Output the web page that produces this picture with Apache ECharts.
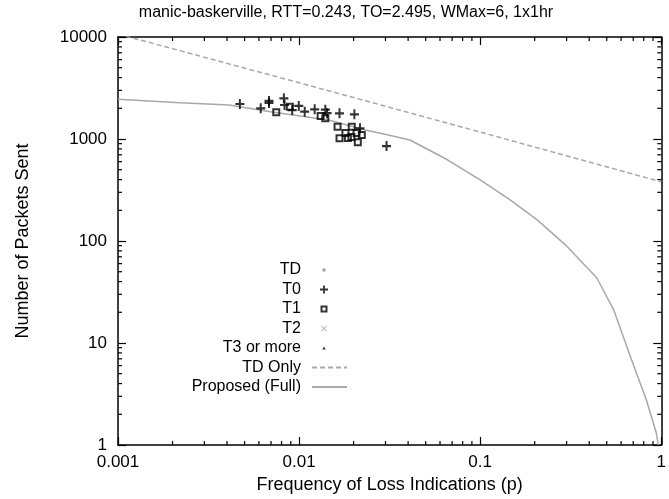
<!DOCTYPE html>
<html>
<head>
<meta charset="utf-8">
<style>
  html, body { margin: 0; padding: 0; background: #fff; }
  #chart { width: 669px; height: 499px; }
</style>
</head>
<body>
<div id="chart"></div>
<script src="https://cdn.jsdelivr.net/npm/echarts@6/dist/echarts.min.js"></script>
<script>
  // model curves: loss frequency p -> packets sent
  var tdOnlyP = [0.001, 0.01, 0.1, 1];
  var tdOnlyN = [10700, 3560, 1170, 380];

  var fullP = [0.001, 0.00219, 0.00411, 0.00708, 0.01455, 0.0232, 0.0311, 0.041, 0.0663, 0.1005, 0.147, 0.2065, 0.301, 0.441, 0.547, 0.686, 0.828, 0.939, 0.963];
  var fullN = [2450, 2270, 2154, 1840, 1535, 1225, 1094, 977, 622, 396, 252, 161, 89, 43.4, 21, 6.8, 2.76, 1.31, 1];

  // measured points
  var t0P = [0.00471, 0.00614, 0.00682, 0.00682, 0.00824, 0.00831, 0.00916, 0.00996, 0.01074, 0.01219, 0.01396, 0.01427, 0.01672, 0.0202, 0.0217, 0.0304];
  var t0N = [2203, 2000, 2360, 2253, 2506, 2154, 1923, 2108, 1852, 1955, 1940, 1790, 1786, 1746, 1273, 853];

  var t1P = [0.00748, 0.00889, 0.01315, 0.01396, 0.01631, 0.01672, 0.01954, 0.01803, 0.01945, 0.02075, 0.0186, 0.0211, 0.0222];
  var t1N = [1828, 2075, 1680, 1595, 1321, 1016, 1321, 1145, 1047, 1145, 1023, 929, 1094];

  var xDecades = [0.001, 0.01, 0.1];
  var yDecades = [1, 10, 100, 1000];
  var minorSteps = [2, 3, 4, 5, 6, 7, 8, 9];

  function zip(a, b) {
    return a.map(function (v, i) { return [v, b[i]]; });
  }

  var xMinor = [], yMinor = [];
  xDecades.forEach(function (d) { minorSteps.forEach(function (s) { xMinor.push([d * s, 1]); }); });
  yDecades.forEach(function (d) { minorSteps.forEach(function (s) { yMinor.push([0.001, d * s]); }); });

  var plusPath = 'path://M3.9,0H6.1V3.9H10V6.1H6.1V10H3.9V6.1H0V3.9H3.9Z';
  var boxPath = 'path://M0,0H10V10H0Z M2.5,2.5V7.5H7.5V2.5Z';

  var font = 'Liberation Sans, Arial, sans-serif';
  var grey = '#a8a8a8';

  function minorTicks(isX) {
    return function (params, api) {
      var cs = params.coordSys;
      var p = api.coord([api.value(0), api.value(1)]);
      var st = { stroke: '#000', lineWidth: 1.2 };
      if (isX) {
        return { type: 'group', children: [
          { type: 'line', shape: { x1: p[0], y1: cs.y + cs.height, x2: p[0], y2: cs.y + cs.height - 4 }, style: st },
          { type: 'line', shape: { x1: p[0], y1: cs.y, x2: p[0], y2: cs.y + 4 }, style: st }
        ] };
      }
      return { type: 'group', children: [
        { type: 'line', shape: { x1: cs.x, y1: p[1], x2: cs.x + 4, y2: p[1] }, style: st },
        { type: 'line', shape: { x1: cs.x + cs.width, y1: p[1], x2: cs.x + cs.width - 4, y2: p[1] }, style: st }
      ] };
    };
  }

  var axisLine = { show: true, lineStyle: { color: '#000', width: 1.5 } };
  var axisTick = { show: true, inside: true, length: 8, lineStyle: { color: '#000', width: 1.2 } };

  // legend glyphs sit left of centre in a 20x10 box
  var pad = 'path://M0,0M20,10';

  var chart = echarts.init(document.getElementById('chart'));
  chart.setOption({
    animation: false,
    backgroundColor: '#fff',
    title: {
      text: 'manic-baskerville, RTT=0.243, TO=2.495, WMax=6, 1x1hr',
      left: 346, textAlign: 'center', top: 5, padding: 0,
      textStyle: { fontFamily: font, fontSize: 16, fontWeight: 'normal', color: '#000' }
    },
    grid: { left: 118, right: 4, top: 37, bottom: 54 },
    legend: {
      orient: 'vertical', align: 'right', right: 321, top: 262, padding: 0,
      itemWidth: 35, itemHeight: 10, itemGap: 3.5, selectedMode: false,
      textStyle: { fontFamily: font, fontSize: 16, lineHeight: 16, color: '#000', padding: [0, 6, 0, 0] },
      data: [
        { name: 'TD', icon: pad + 'M3,3.5H6V6.5H3Z' },
        { name: 'T0', icon: pad + 'M3.6,1H5.4V4.1H8.5V5.9H5.4V9H3.6V5.9H0.5V4.1H3.6Z' },
        { name: 'T1', icon: pad + 'M1,1.5H8V8.5H1Z M3,3.5V6.5H6V3.5Z' },
        { name: 'T2', icon: pad + 'M1.5,2.7L2.2,2L4.5,4.3L6.8,2L7.5,2.7L5.2,5L7.5,7.3L6.8,8L4.5,5.7L2.2,8L1.5,7.3L3.8,5Z' },
        { name: 'T3 or more', icon: pad + 'M4.5,3.5L6.2,6.5H2.8Z' },
        { name: 'TD Only', itemStyle: { opacity: 0 } },
        { name: 'Proposed (Full)', itemStyle: { opacity: 0 } }
      ]
    },
    xAxis: [{
      type: 'log', logBase: 10, min: 0.001, max: 1, position: 'bottom',
      name: 'Frequency of Loss Indications (p)', nameLocation: 'middle', nameGap: 29,
      nameTextStyle: { fontFamily: font, fontSize: 18, color: '#000' },
      axisLine: axisLine, axisTick: axisTick, splitLine: { show: false },
      axisLabel: { margin: 9, fontFamily: font, fontSize: 17, color: '#000',
        formatter: function (v) { return String(v); } }
    }, {
      type: 'log', logBase: 10, min: 0.001, max: 1, position: 'top',
      axisLine: axisLine, axisTick: axisTick, splitLine: { show: false }, axisLabel: { show: false }
    }],
    yAxis: [{
      type: 'log', logBase: 10, min: 1, max: 10000, position: 'left',
      name: 'Number of Packets Sent', nameLocation: 'middle', nameGap: 86,
      nameTextStyle: { fontFamily: font, fontSize: 18, color: '#000' },
      axisLine: axisLine, axisTick: axisTick, splitLine: { show: false },
      axisLabel: { margin: 11, fontFamily: font, fontSize: 17, color: '#000',
        formatter: function (v) { return String(Math.round(v)); } }
    }, {
      type: 'log', logBase: 10, min: 1, max: 10000, position: 'right',
      axisLine: axisLine, axisTick: axisTick, splitLine: { show: false }, axisLabel: { show: false }
    }],
    series: [
      { name: 'TD', type: 'scatter', data: [], itemStyle: { color: '#888' } },
      { name: 'T0', type: 'scatter', data: zip(t0P, t0N), symbol: plusPath, symbolSize: [9, 10], itemStyle: { color: '#000' }, z: 4 },
      { name: 'T1', type: 'scatter', data: zip(t1P, t1N), symbol: boxPath, symbolSize: 8, itemStyle: { color: '#000' }, z: 3 },
      { name: 'T2', type: 'scatter', data: [], itemStyle: { color: '#aaa' } },
      { name: 'T3 or more', type: 'scatter', data: [], itemStyle: { color: '#000' } },
      { name: 'TD Only', type: 'line', data: zip(tdOnlyP, tdOnlyN), symbol: 'none', color: grey,
        itemStyle: { opacity: 0 }, lineStyle: { color: grey, width: 1.5, type: [5, 3] }, z: 2 },
      { name: 'Proposed (Full)', type: 'line', data: zip(fullP, fullN), symbol: 'none', color: grey,
        itemStyle: { opacity: 0 }, lineStyle: { color: grey, width: 1.5 }, z: 2 },
      { type: 'custom', data: xMinor, renderItem: minorTicks(true), silent: true, z: 10 },
      { type: 'custom', data: yMinor, renderItem: minorTicks(false), silent: true, z: 10 }
    ]
  });
</script>
</body>
</html>
